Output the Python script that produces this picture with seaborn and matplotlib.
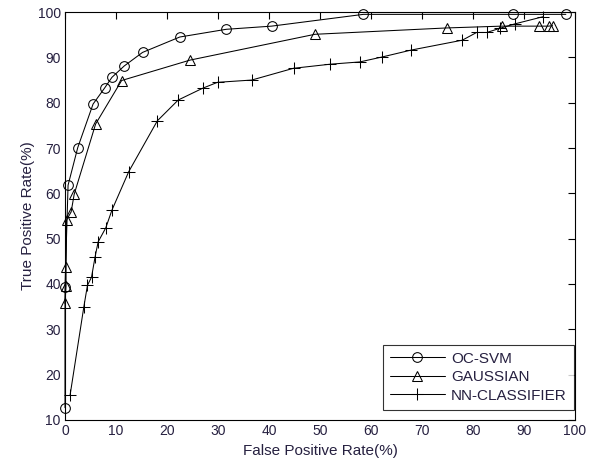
import pandas as pd
import seaborn as sns
import matplotlib.pyplot as plt

# Valeurs (FPR %, TPR %)
svm_fpr = [0, 0, 0.6, 2.5, 5.5, 7.8, 9.2, 11.6, 15.2, 22.5, 31.6, 40.5, 58.5, 87.8, 98.2]
svm_tpr = [12.7, 39.4, 61.8, 70.1, 79.7, 83.3, 85.6, 88.1, 91.1, 94.5, 96.2, 96.9, 99.5, 99.5, 99.5]

gauss_fpr = [0, 0.2, 0.2, 0.3, 1.2, 1.8, 6.0, 11.1, 24.5, 49.0, 74.8, 85.6, 93.0, 94.8, 95.6]
gauss_tpr = [35.7, 39.6, 43.7, 54.1, 55.9, 59.8, 75.3, 84.9, 89.4, 95.1, 96.5, 96.9, 96.9, 96.9, 97.0]

nn_fpr = [1.0, 3.7, 4.4, 5.2, 5.9, 6.5, 8.0, 9.2, 12.5, 18.1, 22.2, 27.0, 29.9, 36.6,
          44.8, 52.0, 57.8, 62.2, 67.8, 77.9, 80.7, 82.7, 85.2, 88.2, 93.8]
nn_tpr = [15.5, 35.0, 39.7, 41.5, 46.0, 49.3, 52.4, 56.3, 64.8, 76.0, 80.6, 83.2, 84.5, 85.0,
          87.6, 88.5, 89.0, 90.1, 91.6, 93.8, 95.5, 95.5, 96.4, 97.4, 99.0]

sns.set_style("white")
plt.rcParams['font.family'] = ['Liberation Sans', 'DejaVu Sans']
txt = '#262040'

fig = plt.figure(figsize=(5.91, 4.65), dpi=100)
ax = fig.add_axes([0.110, 0.097, 0.863, 0.877])

common = dict(color='k', linewidth=0.75, sort=False, estimator=None, ax=ax, clip_on=False,
              markersize=7, markerfacecolor='none', markeredgecolor='k', markeredgewidth=0.75)
sns.lineplot(x=svm_fpr, y=svm_tpr, marker='o', label='OC-SVM', **common)
sns.lineplot(x=gauss_fpr, y=gauss_tpr, marker='^', label='GAUSSIAN', **common)
sns.lineplot(x=nn_fpr, y=nn_tpr, marker='+', label='NN-CLASSIFIER',
             **{**common, 'markersize': 9})

ax.set_xlim(0, 100)
ax.set_ylim(10, 100)
ax.set_xticks(range(0, 101, 10))
ax.set_yticks(range(10, 101, 10))
ax.tick_params(direction='in', top=True, right=True, length=5, width=0.8,
               labelsize=10, labelcolor=txt, color='k', pad=3)
for s in ax.spines.values():
    s.set_color('k')
    s.set_linewidth(0.8)

ax.set_xlabel('False Positive Rate(%)', fontsize=11, color=txt, labelpad=4)
ax.set_ylabel('True Positive Rate(%)', fontsize=11, color=txt, labelpad=2)

leg = ax.legend(loc='lower right', fontsize=11, frameon=True, fancybox=False,
                handlelength=3.6, borderpad=0.45, labelspacing=0.3, handletextpad=0.4,
                bbox_to_anchor=(0.997, 0.025), borderaxespad=0)
leg.get_frame().set_edgecolor('k')
leg.get_frame().set_linewidth(0.8)
for t in leg.get_texts():
    t.set_color(txt)

fig.savefig('out.png', dpi=100, facecolor='white')
